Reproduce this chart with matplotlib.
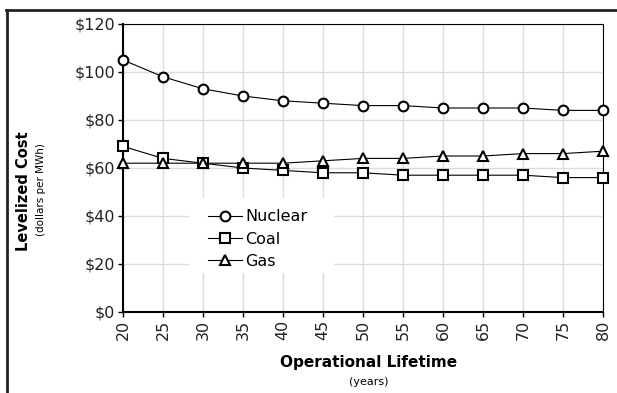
import matplotlib.pyplot as plt
from matplotlib.lines import Line2D
from matplotlib.patches import Rectangle

# operational lifetime (years) and levelized cost (dollars per MWh)
years = [20, 25, 30, 35, 40, 45, 50, 55, 60, 65, 70, 75, 80]
nuclear = [105, 98, 93, 90, 88, 87, 86, 86, 85, 85, 85, 84, 84]
coal = [69, 64, 62, 60, 59, 58, 58, 57, 57, 57, 57, 56, 56]
gas = [62, 62, 62, 62, 62, 63, 64, 64, 65, 65, 66, 66, 67]
y_ticks = [0, 20, 40, 60, 80, 100, 120]

plt.rcParams['font.family'] = ['DejaVu Sans']

W, H = 617, 393
fig = plt.figure(figsize=(W / 100, H / 100), dpi=100)
ax = fig.add_axes([123 / W, 1 - 312 / H, 480 / W, 288 / H])

# figure frame (top and left only)
fig.add_artist(Line2D([6 / W, 1], [1 - 10 / H, 1 - 10 / H], transform=fig.transFigure, color='#222222', lw=2))
fig.add_artist(Line2D([7 / W, 7 / W], [0, 1 - 10 / H], transform=fig.transFigure, color='#222222', lw=2))

style = dict(color='black', lw=0.8, mfc='white', mec='black', mew=1.5, ms=7, clip_on=False, zorder=5)
ax.plot(years, nuclear, marker='o', label='Nuclear', **style)
ax.plot(years, coal, marker='s', label='Coal', **style)
ax.plot(years, gas, marker='^', label='Gas', **style)

ax.set_xlim(20, 80)
ax.set_ylim(0, 120)
ax.set_xticks(years)
ax.set_xticklabels([str(y) for y in years], rotation=90, fontsize=11.5, color='#222222')
ax.set_yticks(y_ticks)
ax.set_yticklabels([f'${v}' for v in y_ticks], fontsize=11.5, color='#222222')
ax.grid(True, color='#dcdcdc', lw=1)
ax.set_axisbelow(True)

for side in ['left', 'bottom']:
    ax.spines[side].set_linewidth(1.5)
for side in ['top', 'right']:
    ax.spines[side].set_linewidth(0.8)
ax.tick_params(direction='out', length=3.6, width=1, pad=2)

# white legend area that hides the gridlines
ax.add_patch(Rectangle(((189 - 123) / 480, (312 - 273) / 288), 145 / 480, 75 / 288,
                       transform=ax.transAxes, facecolor='white', edgecolor='none', zorder=1))
leg = ax.legend(loc='center left', bbox_to_anchor=((208 - 123) / 480, (312 - 239) / 288), frameon=False,
                fontsize=11.5, handlelength=2.1, handletextpad=0.25, labelspacing=0.45,
                borderpad=0, borderaxespad=0)

fig.text(24 / W, 1 - 191 / H, 'Levelized Cost', rotation=90, ha='center', va='center',
         fontsize=10.5, fontweight='bold')
fig.text(41 / W, 1 - 190 / H, '(dollars per MWh)', rotation=90, ha='center', va='center', fontsize=7.5)
fig.text(369 / W, 1 - 362 / H, 'Operational Lifetime', ha='center', va='center', fontsize=11, fontweight='bold')
fig.text(369 / W, 1 - 382 / H, '(years)', ha='center', va='center', fontsize=8)

fig.savefig('out.png', dpi=100)
